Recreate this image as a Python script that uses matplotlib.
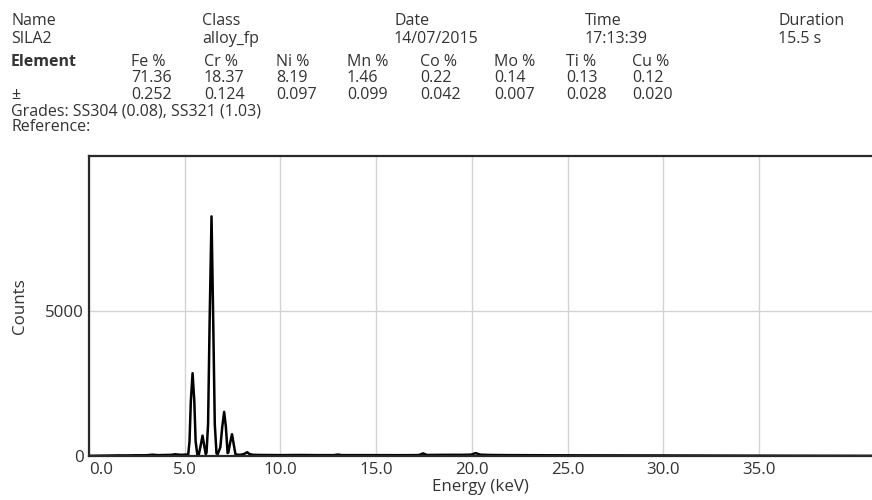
import matplotlib
matplotlib.use("Agg")
import matplotlib.pyplot as plt

# ---------------- data ----------------
header_labels = ["Name", "Class", "Date", "Time", "Duration"]
header_values = ["SILA2", "alloy_fp", "14/07/2015", "17:13:39", "15.5 s"]
elements = ["Fe %", "Cr %", "Ni %", "Mn %", "Co %", "Mo %", "Ti %", "Cu %"]
element_values = ["71.36", "18.37", "8.19", "1.46", "0.22", "0.14", "0.13", "0.12"]
element_errors = ["0.252", "0.124", "0.097", "0.099", "0.042", "0.007", "0.028", "0.020"]
grades_text = "Grades: SS304 (0.08), SS321 (1.03)"
reference_text = "Reference:"

energy_kev = [0.0, 0.5, 1.0, 1.5, 2.0, 2.5, 3.0, 3.3, 3.6, 4.0, 4.3, 4.5, 4.7, 4.9, 5.05,
              5.18, 5.25, 5.32, 5.41, 5.50, 5.57, 5.66,
              5.74, 5.83, 5.93, 6.02, 6.10,
              6.14, 6.22, 6.30, 6.40, 6.49, 6.57, 6.66,
              6.72, 6.86, 6.96, 7.06, 7.15, 7.24,
              7.28, 7.37, 7.47, 7.56, 7.65,
              7.80, 7.95, 8.10, 8.26, 8.40, 8.60,
              9.0, 10.0, 11.0, 12.0, 12.8, 13.0, 13.2, 14.0, 15.0, 16.0, 17.0,
              17.25, 17.45, 17.65, 18.5, 19.5, 19.95, 20.2, 20.45, 21.0, 22.0,
              24.0, 26.0, 28.0, 30.0, 32.0, 34.0, 36.0, 38.0, 40.0, 40.9]
counts = [5, 10, 15, 20, 20, 25, 25, 45, 30, 35, 40, 60, 45, 40, 50,
          40, 500, 1900, 2850, 1900, 500, 40,
          60, 350, 700, 350, 60,
          120, 1100, 4600, 8250, 4600, 1100, 90,
          60, 300, 1000, 1520, 1000, 100,
          120, 450, 750, 400, 60,
          40, 45, 70, 130, 60, 40,
          35, 30, 35, 30, 30, 50, 30, 30, 30, 28, 30,
          35, 90, 35, 40, 40, 45, 100, 45, 35, 30,
          25, 22, 20, 18, 15, 12, 10, 8, 6, 5]

x_ticks = [0, 5, 10, 15, 20, 25, 30, 35]
x_tick_labels = ["0.0", "5.0", "10.0", "15.0", "20.0", "25.0", "30.0", "35.0"]
y_ticks = [0, 5000]
y_tick_labels = ["0", "5000"]

# ---------------- figure ----------------
W, H = 872, 500
plt.rcParams["font.family"] = ["Open Sans", "DejaVu Sans"]
fig = plt.figure(figsize=(W / 100, H / 100), dpi=100)
fig.patch.set_facecolor("white")

txt_color = "#333333"
fs_head = 11.5
fs_axis = 12.2


def ftext(px, py, s, **kw):
    kw.setdefault("fontsize", fs_head)
    kw.setdefault("color", txt_color)
    kw.setdefault("va", "baseline")
    kw.setdefault("ha", "left")
    fig.text(px / W, 1 - py / H, s, **kw)


header_x = [11, 202, 394, 585, 778]
for x, lab, val in zip(header_x, header_labels, header_values):
    ftext(x, 25, lab)
    ftext(x, 43, val)

ftext(11, 66, "Element", fontweight="bold")
col_x = [131, 204, 276, 347, 420, 494, 566, 632]
for x, el, v, e in zip(col_x, elements, element_values, element_errors):
    ftext(x, 66, el)
    ftext(x, 82, v)
    ftext(x, 99, e)
ftext(11, 99, "±")
ftext(11, 115, grades_text)
ftext(11, 131, reference_text)

# axes geometry (pixels)
left_px, right_px, top_px, bottom_px = 89, 872, 156, 456
ax = fig.add_axes([left_px / W, 1 - bottom_px / H,
                   (right_px - left_px) / W, (bottom_px - top_px) / H])
ax.plot(energy_kev, counts, color="black", lw=1.8, solid_joinstyle="round")
ax.set_xlim(0, 40.9)
ax.set_ylim(0, 10330)

ax.set_xticks(x_ticks)
ax.set_xticklabels(x_tick_labels)
ax.set_yticks(y_ticks)
ax.set_yticklabels(y_tick_labels)
ax.tick_params(axis="both", length=0, labelsize=fs_axis, labelcolor=txt_color)
ax.tick_params(axis="x", pad=4)
ax.tick_params(axis="y", pad=4)
ax.get_xticklabels()[0].set_horizontalalignment("left")

ax.grid(True, color="#d4d4d4", lw=1.0)
ax.set_axisbelow(True)
for side in ["left", "top", "bottom"]:
    ax.spines[side].set_color("#2a2a2a")
    ax.spines[side].set_linewidth(1.6)
ax.spines["right"].set_visible(False)

ax.set_xlabel("Energy (keV)", fontsize=fs_axis, color=txt_color, labelpad=1)
ax.set_ylabel("Counts", fontsize=fs_axis, color=txt_color, labelpad=12)

fig.savefig("out.png", dpi=100)
